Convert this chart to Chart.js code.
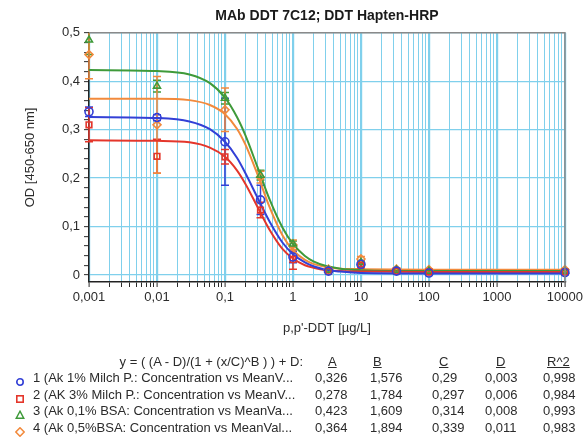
<!DOCTYPE html>
<html>
<head>
<meta charset="utf-8">
<script src="https://cdn.jsdelivr.net/npm/chart.js@4.4.0/dist/chart.umd.min.js"></script>
<style>
  html, body { margin: 0; padding: 0; background: #fff; }
  #wrap { position: relative; width: 586px; height: 443px; font-family: "Liberation Sans", Arial, sans-serif; color: #2b2b2b; }
  #wrap canvas { position: absolute; left: 0; top: 0; }
  .t { position: absolute; font-size: 13px; line-height: 16px; white-space: nowrap; }
  .h { text-decoration: underline; }
  .mk { position: absolute; }
</style>
</head>
<body>
<div id="wrap">
  <canvas id="chart" width="586" height="443"></canvas>
  <div id="table"></div>
</div>
<script>
// measured points (concentration in µg/L, mean OD, error)
const conc = [0.001, 0.01, 0.1, 0.333, 1, 3.33, 10, 33.3, 100, 10000];
const mean1 = [0.337, 0.325, 0.275, 0.155, 0.037, 0.008, 0.022, 0.008, 0.004, 0.005];
const err1  = [0.01, 0.006, 0.09, 0.03, 0.012, 0.002, 0.004, 0.002, 0.002, 0.002];
const mean2 = [0.31, 0.245, 0.244, 0.134, 0.032, 0.008, 0.02, 0.008, 0.006, 0.006];
const err2  = [0.035, 0.035, 0.015, 0.016, 0.02, 0.002, 0.003, 0.002, 0.002, 0.002];
const mean3 = [0.485, 0.39, 0.365, 0.206, 0.064, 0.01, 0.026, 0.01, 0.008, 0.008];
const err3  = [0.03, 0.012, 0.012, 0.01, 0.006, 0.002, 0.004, 0.002, 0.002, 0.002];
const mean4 = [0.455, 0.31, 0.341, 0.202, 0.062, 0.012, 0.033, 0.012, 0.011, 0.011];
const err4  = [0.05, 0.1, 0.045, 0.012, 0.01, 0.003, 0.005, 0.003, 0.002, 0.002];

// fitted curves
const fitX = [0.001, 0.01, 0.03, 0.06, 0.1, 0.15, 0.2, 0.3, 0.45, 0.7, 1, 1.5, 2, 3, 5, 10, 100, 10000];
const fit1 = [0.326, 0.324, 0.317, 0.301, 0.275, 0.242, 0.210, 0.160, 0.111, 0.067, 0.043, 0.026, 0.018, 0.011, 0.007, 0.004, 0.003, 0.003];
const fit2 = [0.278, 0.277, 0.274, 0.263, 0.244, 0.216, 0.188, 0.141, 0.094, 0.054, 0.034, 0.020, 0.015, 0.010, 0.008, 0.007, 0.006, 0.006];
const fit3 = [0.423, 0.421, 0.414, 0.396, 0.366, 0.326, 0.288, 0.223, 0.157, 0.098, 0.064, 0.039, 0.028, 0.019, 0.013, 0.010, 0.008, 0.008];
const fit4 = [0.364, 0.364, 0.361, 0.351, 0.332, 0.302, 0.269, 0.208, 0.141, 0.082, 0.051, 0.031, 0.023, 0.017, 0.013, 0.012, 0.011, 0.011];

// tick labels
const xMajor = [0.001, 0.01, 0.1, 1, 10, 100, 1000, 10000];
const xLabels = ['0,001', '0,01', '0,1', '1', '10', '100', '1000', '10000'];
const yMajor = [0, 0.1, 0.2, 0.3, 0.4, 0.5];
const yLabels = ['0', '0,1', '0,2', '0,3', '0,4', '0,5'];

// legend table
const seriesLabels = [
  '1 (Ak 1% Milch P.: Concentration vs MeanV...',
  '2 (AK 3% Milch P.: Concentration vs MeanV...',
  '3 (Ak 0,1% BSA: Concentration vs MeanVa...',
  '4 (Ak 0,5%BSA: Concentration vs MeanVal...'
];
const paramA = ['0,326', '0,278', '0,423', '0,364'];
const paramB = ['1,576', '1,784', '1,609', '1,894'];
const paramC = ['0,29', '0,297', '0,314', '0,339'];
const paramD = ['0,003', '0,006', '0,008', '0,011'];
const paramR2 = ['0,998', '0,984', '0,993', '0,983'];

const colors = ['#3340d6', '#e4362b', '#3f9a3a', '#f28a3c'];
const styles = ['circle', 'rect', 'triangle', 'rectRot'];
const means = [mean1, mean2, mean3, mean4];
const errs = [err1, err2, err3, err4];
const fits = [fit1, fit2, fit3, fit4];

const gridBlue = 'rgb(128, 208, 236)';
const font = { family: '"Liberation Sans", Arial, sans-serif', size: 13 };

// minor grid positions for the log axis
const xGrid = [];
xMajor.forEach(m => {
  for (let k = 1; k <= 9; k++) {
    const v = +(m * k).toPrecision(3);
    if (v <= 10000) xGrid.push(v);
  }
});
const yGrid = [];
for (let i = 0; i <= 25; i++) yGrid.push(Math.round(i * 2) / 100);

const isMajorX = v => xMajor.some(m => Math.abs(m - v) / m < 1e-6);
const isMajorY = v => yMajor.some(m => Math.abs(m - v) < 1e-6);

const datasets = [];
fits.forEach((f, i) => {
  datasets.push({
    data: fitX.map((x, j) => ({ x, y: f[j] })),
    showLine: true,
    borderColor: colors[i],
    borderWidth: 2,
    pointRadius: 0,
    cubicInterpolationMode: 'monotone',
    order: 2
  });
});
means.forEach((m, i) => {
  datasets.push({
    data: conc.map((x, j) => ({ x, y: m[j] })),
    errors: errs[i],
    showLine: false,
    borderColor: colors[i],
    backgroundColor: 'rgba(255,255,255,0)',
    pointStyle: styles[i],
    pointRadius: 4,
    pointBorderWidth: 1.6,
    clip: 8,
    order: 1
  });
});

const errorBars = {
  id: 'errorBars',
  beforeDatasetsDraw(chart) {
    const { ctx, chartArea, scales: { x, y } } = chart;
    ctx.save();
    ctx.beginPath();
    ctx.rect(chartArea.left - 6, chartArea.top, chartArea.width + 12, chartArea.height);
    ctx.clip();
    chart.data.datasets.forEach(ds => {
      if (!ds.errors) return;
      ctx.strokeStyle = ds.borderColor;
      ctx.lineWidth = 1.5;
      ds.data.forEach((p, i) => {
        const px = x.getPixelForValue(p.x);
        const top = y.getPixelForValue(p.y + ds.errors[i]);
        const bot = y.getPixelForValue(p.y - ds.errors[i]);
        ctx.beginPath();
        ctx.moveTo(px, top); ctx.lineTo(px, bot);
        ctx.moveTo(px - 4, top); ctx.lineTo(px + 4, top);
        ctx.moveTo(px - 4, bot); ctx.lineTo(px + 4, bot);
        ctx.stroke();
      });
    });
    ctx.restore();
  }
};

// gray frame on top and right of the plot
const frame = {
  id: 'frame',
  afterDatasetsDraw(chart) {
    const { ctx, chartArea: a } = chart;
    ctx.save();
    ctx.strokeStyle = '#8a8a8a';
    ctx.lineWidth = 1.5;
    ctx.beginPath();
    ctx.moveTo(a.left, a.top); ctx.lineTo(a.right, a.top); ctx.lineTo(a.right, a.bottom);
    ctx.stroke();
    ctx.restore();
  }
};

new Chart(document.getElementById('chart'), {
  type: 'scatter',
  data: { datasets },
  options: {
    responsive: false,
    animation: false,
    layout: { padding: { left: 0, right: 17, top: 0, bottom: 101 } },
    plugins: {
      legend: { display: false },
      tooltip: { enabled: false },
      title: {
        display: true,
        text: 'MAb DDT 7C12; DDT Hapten-HRP',
        fullSize: false,
        color: '#1a1a1a',
        font: { family: font.family, size: 14, weight: 'bold' },
        padding: { top: 8, bottom: 8 }
      }
    },
    scales: {
      x: {
        type: 'logarithmic',
        min: 0.001,
        max: 10000,
        afterBuildTicks: s => { s.ticks = xGrid.map(v => ({ value: v })); },
        afterFit: s => { s.height = 60; },
        ticks: {
          autoSkip: false,
          maxRotation: 0,
          padding: 3,
          color: '#2b2b2b',
          font,
          callback: v => {
            const i = xMajor.findIndex(m => Math.abs(m - v) / m < 1e-6);
            return i >= 0 ? xLabels[i] : '';
          }
        },
        grid: {
          color: gridBlue,
          lineWidth: c => (c.tick && isMajorX(c.tick.value)) ? 2.2 : 1,
          tickColor: '#2b2b2b',
          tickWidth: 1,
          tickLength: 5
        },
        border: { color: '#222', width: 1.5 },
        title: {
          display: true,
          text: "p,p'-DDT [µg/L]",
          color: '#2b2b2b',
          font,
          padding: { top: 10, bottom: 6 }
        }
      },
      y: {
        min: -0.0145,
        max: 0.5,
        afterBuildTicks: s => { s.ticks = yGrid.map(v => ({ value: v })); },
        afterFit: s => { s.width = 89; },
        ticks: {
          autoSkip: false,
          padding: 4,
          color: '#2b2b2b',
          font,
          callback: v => {
            const i = yMajor.findIndex(m => Math.abs(m - v) < 1e-6);
            return i >= 0 ? yLabels[i] : '';
          }
        },
        grid: {
          color: c => (c.tick && isMajorY(c.tick.value)) ? gridBlue : 'rgba(0,0,0,0)',
          lineWidth: 1.3,
          tickColor: '#2b2b2b',
          tickWidth: 1,
          tickLength: 5
        },
        border: { color: '#222', width: 1.5 },
        title: {
          display: true,
          text: 'OD [450-650 nm]',
          color: '#2b2b2b',
          font,
          padding: { top: 23, bottom: 4 }
        }
      }
    }
  },
  plugins: [errorBars, frame]
});

// legend / parameter table under the chart
function marker(i) {
  const c = colors[i];
  let shape = '';
  if (i === 0) shape = `<circle cx="5" cy="5" r="3.2" fill="none" stroke="${c}" stroke-width="1.6"/>`;
  if (i === 1) shape = `<rect x="1.8" y="1.8" width="6.4" height="6.4" fill="none" stroke="${c}" stroke-width="1.6"/>`;
  if (i === 2) shape = `<polygon points="5,1.2 8.8,8.3 1.2,8.3" fill="none" stroke="${c}" stroke-width="1.4"/>`;
  if (i === 3) shape = `<polygon points="5,0.8 9.2,5 5,9.2 0.8,5" fill="none" stroke="${c}" stroke-width="1.6"/>`;
  return `<svg width="10" height="10">${shape}</svg>`;
}

const colLeft = [315, 370, 432, 485, 543];
const headLeft = [328, 373, 439, 496, 547];
const heads = ['A', 'B', 'C', 'D', 'R^2'];
const cols = [paramA, paramB, paramC, paramD, paramR2];

let html = `<div class="t" style="right:${586 - 303}px;top:354px">y = ( (A - D)/(1 + (x/C)^B ) ) + D:</div>`;
heads.forEach((h, k) => {
  html += `<div class="t h" style="left:${headLeft[k]}px;top:354px">${h}</div>`;
});
seriesLabels.forEach((lab, i) => {
  const top = 370 + i * 16.5;
  html += `<div class="mk" style="left:15px;top:${top + 3}px">${marker(i)}</div>`;
  html += `<div class="t" style="left:33px;top:${top}px">${lab}</div>`;
  cols.forEach((col, k) => {
    html += `<div class="t" style="left:${colLeft[k]}px;top:${top}px">${col[i]}</div>`;
  });
});
document.getElementById('table').innerHTML = html;
</script>
</body>
</html>
